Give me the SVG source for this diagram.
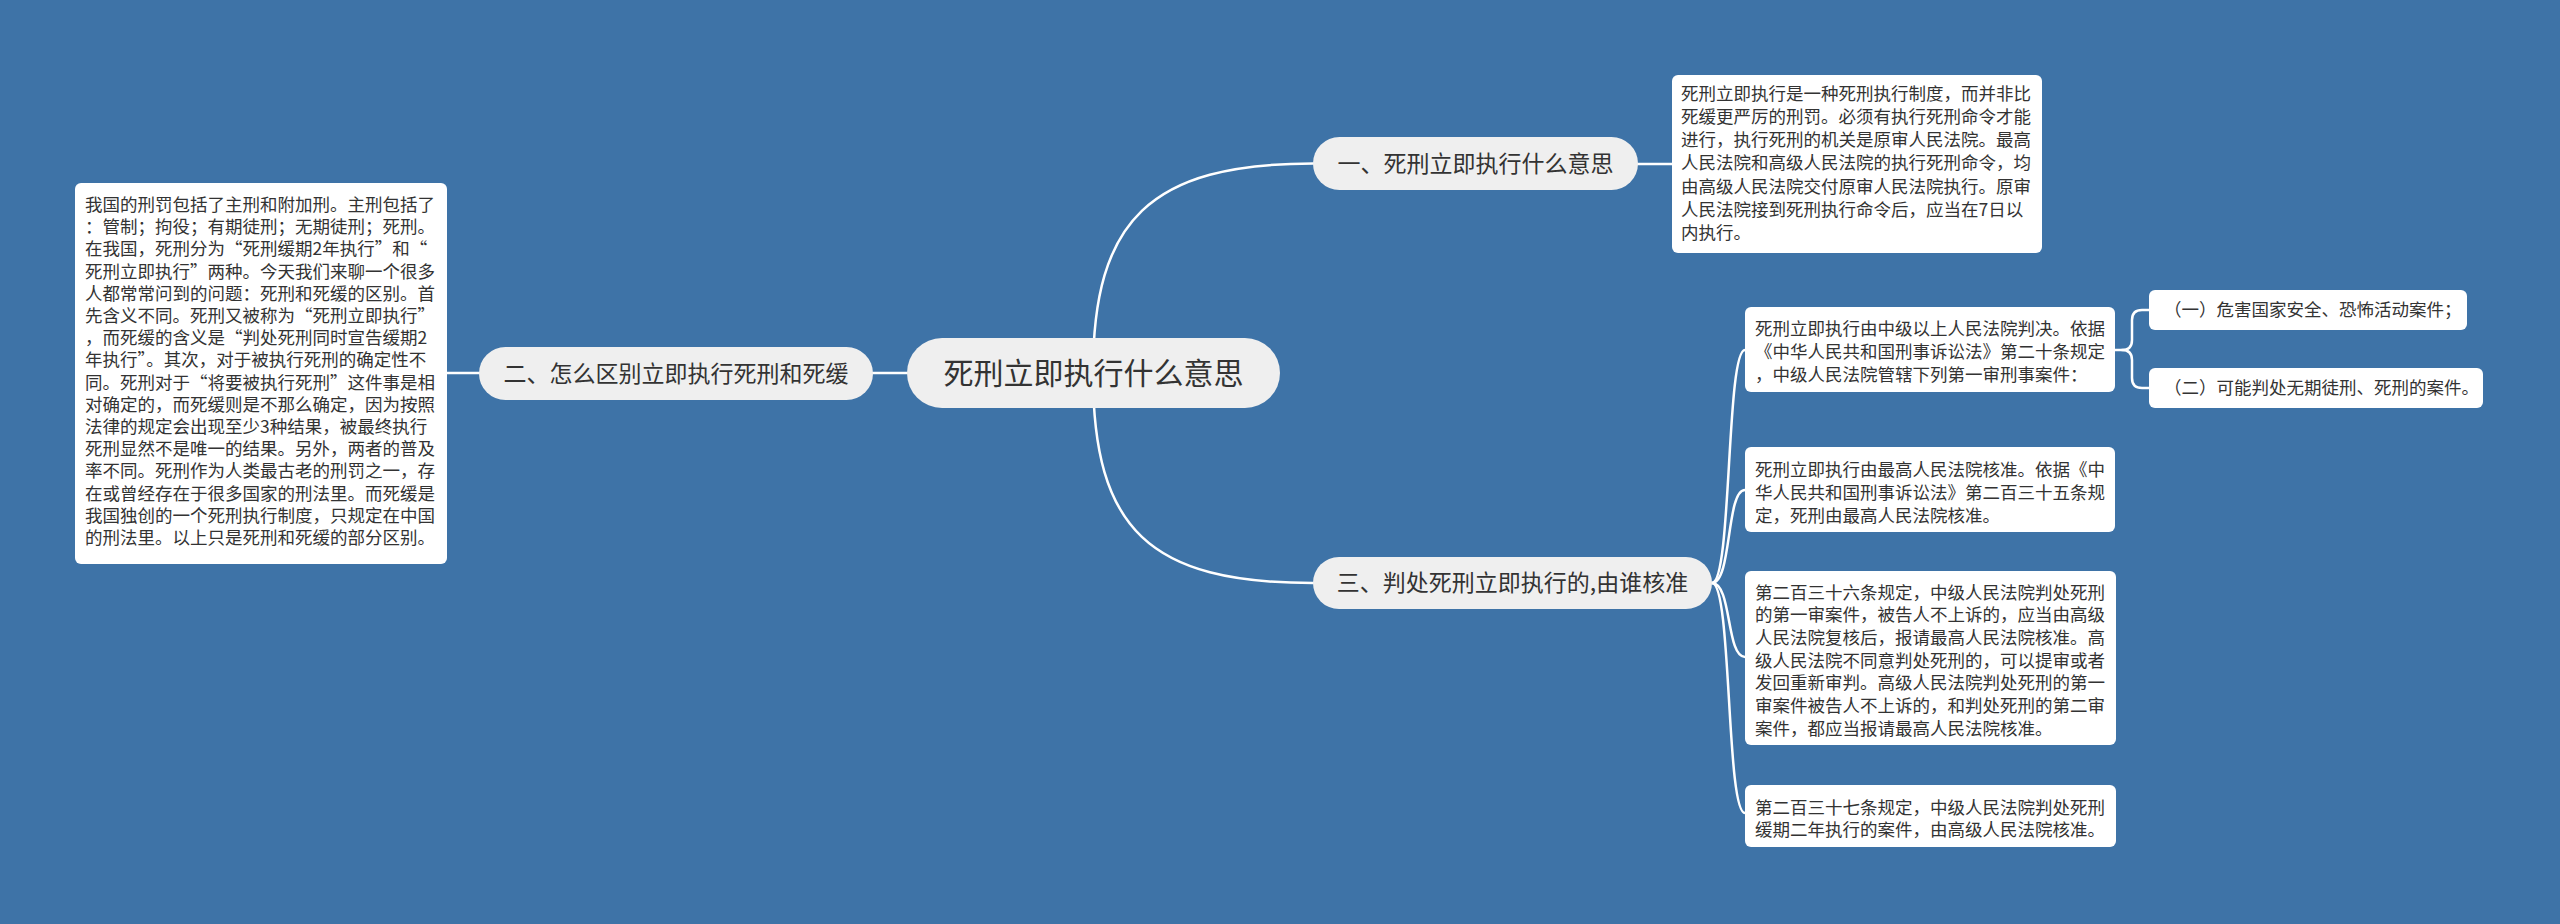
<svg xmlns="http://www.w3.org/2000/svg" width="2560" height="924" viewBox="0 0 2560 924">
<style>
.bg{fill:#3e73a7}
.pill{fill:#efefef}
.box{fill:#ffffff}
.lk{fill:none;stroke:#ffffff;stroke-width:2.5;stroke-linecap:round}
text{font-family:"Noto Sans CJK SC","Noto Sans",sans-serif;fill:#333333}
.t30{font-size:30px}
.t23{font-size:23px}
.t17{font-size:17.5px}
</style>
<rect class="bg" x="0" y="0" width="2560" height="924"/>
<g id="connectors">
<path class="lk" d="M1093,373 C1093,220 1150,163.5 1313,163.5"/>
<path class="lk" d="M1093,373 C1093,530 1150,583 1313,583"/>
<path class="lk" d="M907,373 H873"/>
<path class="lk" d="M479,373 H447"/>
<path class="lk" d="M1638,164 H1672"/>
<path class="lk" d="M1712,583 C1732,583 1726,350 1745,350"/>
<path class="lk" d="M1712,583 C1732,583 1726,490 1745,490"/>
<path class="lk" d="M1712,583 C1732,583 1726,657 1745,657"/>
<path class="lk" d="M1712,583 C1732,583 1726,813 1745,813"/>
<path class="lk" d="M2115,350 H2122 Q2132,350 2132,340 V320 Q2132,310 2142,310 H2149"/>
<path class="lk" d="M2122,350 Q2132,350 2132,360 V378 Q2132,388 2142,388 H2149"/>
</g>
<g id="root">
<rect class="pill" x="907" y="338" width="373" height="70" rx="35"/>
<text class="t30" x="1093.5" y="384" text-anchor="middle">死刑立即执行什么意思</text>
</g>
<g id="n1">
<rect class="pill" x="1313" y="137" width="325" height="53" rx="26.5"/>
<text class="t23" x="1475.5" y="172" text-anchor="middle">一、死刑立即执行什么意思</text>
</g>
<g id="n2">
<rect class="pill" x="479" y="347" width="394" height="53" rx="26.5"/>
<text class="t23" x="676" y="382" text-anchor="middle">二、怎么区别立即执行死刑和死缓</text>
</g>
<g id="n3">
<rect class="pill" x="1313" y="557" width="399" height="52" rx="26"/>
<text class="t23" x="1512.5" y="591" text-anchor="middle">三、判处死刑立即执行的,由谁核准</text>
</g>
<g id="n1-desc">
<rect class="box" x="1672" y="75" width="370" height="178" rx="6"/>
<text class="t17" x="1681" y="99.5">
<tspan x="1681">死刑立即执行是一种死刑执行制度，而并非比</tspan>
<tspan x="1681" dy="23.3">死缓更严厉的刑罚。必须有执行死刑命令才能</tspan>
<tspan x="1681" dy="23.3">进行，执行死刑的机关是原审人民法院。最高</tspan>
<tspan x="1681" dy="23.3">人民法院和高级人民法院的执行死刑命令，均</tspan>
<tspan x="1681" dy="23.3">由高级人民法院交付原审人民法院执行。原审</tspan>
<tspan x="1681" dy="23.3">人民法院接到死刑执行命令后，应当在7日以</tspan>
<tspan x="1681" dy="23.3">内执行。</tspan>
</text>
</g>
<g id="n2-desc">
<rect class="box" x="75" y="183" width="372" height="381" rx="6"/>
<text class="t17" x="85" y="211">
<tspan x="85">我国的刑罚包括了主刑和附加刑。主刑包括了</tspan>
<tspan x="85" dy="22.2">：管制；拘役；有期徒刑；无期徒刑；死刑。</tspan>
<tspan x="85" dy="22.2">在我国，死刑分为“死刑缓期2年执行”和“</tspan>
<tspan x="85" dy="22.2">死刑立即执行”两种。今天我们来聊一个很多</tspan>
<tspan x="85" dy="22.2">人都常常问到的问题：死刑和死缓的区别。首</tspan>
<tspan x="85" dy="22.2">先含义不同。死刑又被称为“死刑立即执行”</tspan>
<tspan x="85" dy="22.2">，而死缓的含义是“判处死刑同时宣告缓期2</tspan>
<tspan x="85" dy="22.2">年执行”。其次，对于被执行死刑的确定性不</tspan>
<tspan x="85" dy="22.2">同。死刑对于“将要被执行死刑”这件事是相</tspan>
<tspan x="85" dy="22.2">对确定的，而死缓则是不那么确定，因为按照</tspan>
<tspan x="85" dy="22.2">法律的规定会出现至少3种结果，被最终执行</tspan>
<tspan x="85" dy="22.2">死刑显然不是唯一的结果。另外，两者的普及</tspan>
<tspan x="85" dy="22.2">率不同。死刑作为人类最古老的刑罚之一，存</tspan>
<tspan x="85" dy="22.2">在或曾经存在于很多国家的刑法里。而死缓是</tspan>
<tspan x="85" dy="22.2">我国独创的一个死刑执行制度，只规定在中国</tspan>
<tspan x="85" dy="22.2">的刑法里。以上只是死刑和死缓的部分区别。</tspan>
</text>
</g>
<g id="n3-a">
<rect class="box" x="1745" y="307" width="370" height="85" rx="6"/>
<text class="t17" x="1755" y="335">
<tspan x="1755">死刑立即执行由中级以上人民法院判决。依据</tspan>
<tspan x="1755" dy="23">《中华人民共和国刑事诉讼法》第二十条规定</tspan>
<tspan x="1755" dy="23">，中级人民法院管辖下列第一审刑事案件：</tspan>
</text>
</g>
<g id="n3-a-1">
<rect class="box" x="2149" y="290" width="318" height="40" rx="6"/>
<text class="t17" x="2164" y="316">（一）危害国家安全、恐怖活动案件；</text>
</g>
<g id="n3-a-2">
<rect class="box" x="2149" y="368" width="334" height="40" rx="6"/>
<text class="t17" x="2164" y="394">（二）可能判处无期徒刑、死刑的案件。</text>
</g>
<g id="n3-b">
<rect class="box" x="1745" y="447" width="370" height="85" rx="6"/>
<text class="t17" x="1755" y="475.5">
<tspan x="1755">死刑立即执行由最高人民法院核准。依据《中</tspan>
<tspan x="1755" dy="23">华人民共和国刑事诉讼法》第二百三十五条规</tspan>
<tspan x="1755" dy="23">定，死刑由最高人民法院核准。</tspan>
</text>
</g>
<g id="n3-c">
<rect class="box" x="1745" y="571" width="371" height="174" rx="6"/>
<text class="t17" x="1755" y="598.5">
<tspan x="1755">第二百三十六条规定，中级人民法院判处死刑</tspan>
<tspan x="1755" dy="22.7">的第一审案件，被告人不上诉的，应当由高级</tspan>
<tspan x="1755" dy="22.7">人民法院复核后，报请最高人民法院核准。高</tspan>
<tspan x="1755" dy="22.7">级人民法院不同意判处死刑的，可以提审或者</tspan>
<tspan x="1755" dy="22.7">发回重新审判。高级人民法院判处死刑的第一</tspan>
<tspan x="1755" dy="22.7">审案件被告人不上诉的，和判处死刑的第二审</tspan>
<tspan x="1755" dy="22.7">案件，都应当报请最高人民法院核准。</tspan>
</text>
</g>
<g id="n3-d">
<rect class="box" x="1745" y="785" width="371" height="62" rx="6"/>
<text class="t17" x="1755" y="813.5">
<tspan x="1755">第二百三十七条规定，中级人民法院判处死刑</tspan>
<tspan x="1755" dy="22">缓期二年执行的案件，由高级人民法院核准。</tspan>
</text>
</g>
</svg>
